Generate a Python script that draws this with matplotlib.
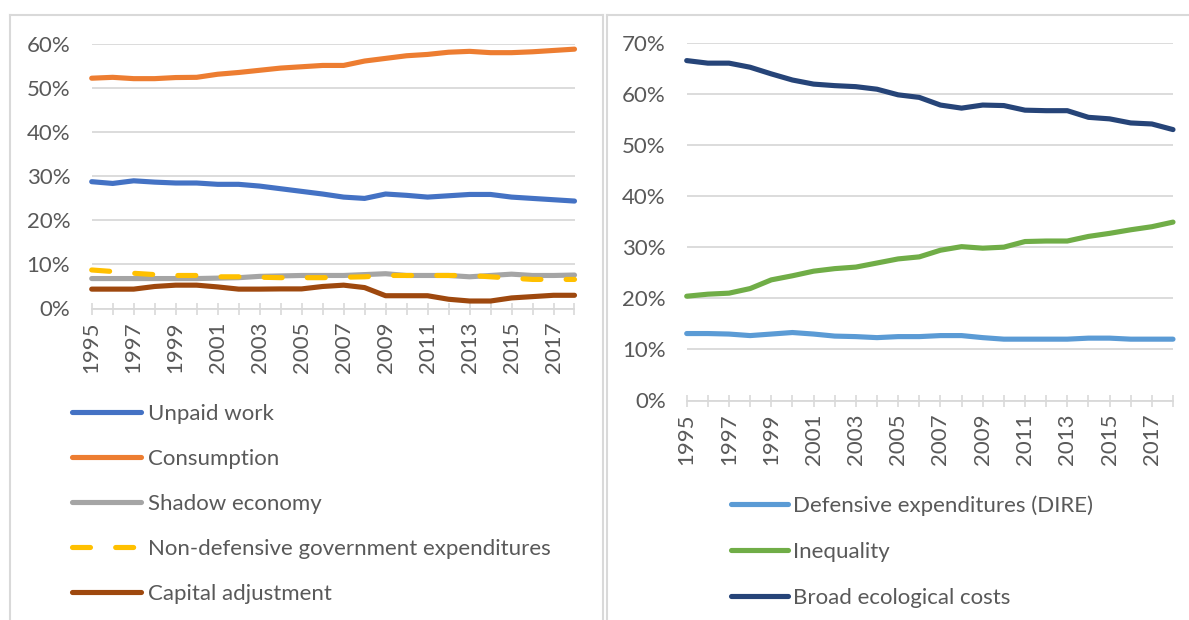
import matplotlib
matplotlib.use("Agg")
import matplotlib.pyplot as plt
from matplotlib.lines import Line2D
from matplotlib.ticker import FuncFormatter, FixedLocator

plt.rcParams['font.family'] = ['Lato', 'DejaVu Sans']

years = list(range(1995, 2019))

unpaid_work = [28.8, 28.4, 29.0, 28.7, 28.5, 28.5, 28.2, 28.2, 27.8, 27.2, 26.6, 26.0,
               25.3, 25.0, 26.0, 25.7, 25.3, 25.6, 25.9, 25.9, 25.3, 25.0, 24.7, 24.4]
consumption = [52.3, 52.5, 52.2, 52.2, 52.45, 52.5, 53.2, 53.6, 54.1, 54.6, 54.9, 55.2,
               55.2, 56.2, 56.8, 57.4, 57.7, 58.2, 58.4, 58.1, 58.1, 58.3, 58.6, 58.9]
shadow_economy = [6.8, 6.8, 6.8, 6.8, 6.8, 6.8, 6.9, 7.0, 7.3, 7.4, 7.5, 7.5,
                  7.5, 7.7, 7.9, 7.5, 7.5, 7.5, 7.2, 7.5, 7.8, 7.5, 7.5, 7.6]
non_defensive_gov = [8.75, 8.4, 8.0, 7.7, 7.5, 7.5, 7.2, 7.2, 7.1, 7.0, 7.0, 7.0,
                     7.1, 7.2, 7.5, 7.5, 7.5, 7.5, 7.5, 7.2, 6.9, 6.6, 6.6, 6.6]
capital_adjustment = [4.4, 4.4, 4.4, 5.0, 5.3, 5.3, 4.9, 4.4, 4.4, 4.45, 4.45, 5.0,
                      5.3, 4.75, 2.9, 2.9, 2.9, 2.1, 1.7, 1.7, 2.4, 2.7, 3.0, 3.0]

defensive_exp = [13.1, 13.1, 13.0, 12.7, 13.0, 13.3, 13.0, 12.6, 12.5, 12.3, 12.5, 12.5,
                 12.7, 12.7, 12.3, 12.0, 12.0, 12.0, 12.0, 12.2, 12.2, 12.0, 12.0, 12.0]
inequality = [20.4, 20.8, 21.0, 21.9, 23.6, 24.4, 25.3, 25.8, 26.1, 26.9, 27.7, 28.1,
              29.4, 30.1, 29.8, 30.0, 31.1, 31.2, 31.2, 32.1, 32.7, 33.4, 34.0, 34.9]
broad_ecological = [66.5, 66.0, 66.0, 65.2, 63.9, 62.7, 61.9, 61.6, 61.4, 60.9, 59.8, 59.3,
                    57.8, 57.2, 57.8, 57.7, 56.8, 56.7, 56.7, 55.4, 55.1, 54.3, 54.1, 53.0]

left_labels = ["Unpaid work", "Consumption", "Shadow economy",
               "Non-defensive government expenditures", "Capital adjustment"]
right_labels = ["Defensive expenditures (DIRE)", "Inequality", "Broad ecological costs"]

left_colors = ["#4472C4", "#ED7D31", "#A5A5A5", "#FFC000", "#9E480E"]
right_colors = ["#5B9BD5", "#70AD47", "#264478"]

W, H = 1189, 620
fig = plt.figure(figsize=(W / 100, H / 100), dpi=100)

def rect(x0, y0, x1, y1):
    return [x0 / W, 1 - y1 / H, (x1 - x0) / W, (y1 - y0) / H]

GRID = "#D9D9D9"
TXT = "#595959"
FS = 16
LW = 3.7

def style_axes(ax, ymax, ystep, ypad):
    ax.set_xlim(1995, 2018)
    ax.set_ylim(0, ymax)
    ax.set_yticks([v for v in range(0, ymax + 1, ystep)])
    ax.yaxis.set_major_formatter(FuncFormatter(lambda v, p: f"{int(round(v))}%"))
    ax.grid(axis='y', color=GRID, linewidth=1.3)
    ax.set_axisbelow(True)
    for s in ['top', 'right', 'left']:
        ax.spines[s].set_visible(False)
    ax.spines['bottom'].set_color(GRID)
    ax.spines['bottom'].set_linewidth(1.3)
    ax.spines['bottom'].set_zorder(1)
    ax.xaxis.set_major_locator(FixedLocator(years))
    ax.set_xticklabels([str(y) if y % 2 == 1 else "" for y in years],
                       rotation=90, fontsize=FS, color=TXT)
    ax.tick_params(axis='x', direction='inout', length=9, width=1.2, color=GRID, pad=5)
    ax.tick_params(axis='y', length=0, pad=ypad, labelsize=FS, labelcolor=TXT)

# Left chart
axL = fig.add_axes(rect(91.7, 44.3, 574.5, 308.5))
left_series = [unpaid_work, consumption, shadow_economy, non_defensive_gov, capital_adjustment]
handlesL = []
for vals, col, lab in zip(left_series, left_colors, left_labels):
    if lab.startswith("Non-defensive"):
        ln, = axL.plot(years, vals, color=col, linewidth=LW, linestyle=(0, (3.5, 4.9)),
                       dash_capstyle='round', solid_capstyle='round', label=lab, clip_on=False)
    else:
        ln, = axL.plot(years, vals, color=col, linewidth=LW, solid_capstyle='round',
                       label=lab, clip_on=False)
    handlesL.append(ln)
style_axes(axL, 60, 10, 15.5)

# Right chart
axR = fig.add_axes(rect(686.7, 42.7, 1173, 400.5))
right_series = [defensive_exp, inequality, broad_ecological]
handlesR = []
for vals, col, lab in zip(right_series, right_colors, right_labels):
    ln, = axR.plot(years, vals, color=col, linewidth=LW, solid_capstyle='round',
                   label=lab, clip_on=False)
    handlesR.append(ln)
style_axes(axR, 70, 10, 15)

# Legends
fig.legend(handlesL, left_labels, loc='upper left', bbox_to_anchor=(72 / W, 1 - 403.5 / H),
           frameon=False, fontsize=FS, labelcolor=TXT, handlelength=3.1,
           handletextpad=0.3, labelspacing=1.13, borderpad=0, borderaxespad=0)
fig.legend(handlesR, right_labels, loc='upper left', bbox_to_anchor=(731 / W, 1 - 495.5 / H),
           frameon=False, fontsize=FS, labelcolor=TXT, handlelength=2.57,
           handletextpad=0.2, labelspacing=1.17, borderpad=0, borderaxespad=0)

# Panel borders
bc = "#D9D9D9"
def fline(xs, ys):
    fig.add_artist(Line2D([x / W for x in xs], [1 - y / H for y in ys],
                          color=bc, linewidth=1.5, transform=fig.transFigure))

fline([10, 10], [14.5, 620])
fline([10, 603], [14.5, 14.5])
fline([603, 603], [14.5, 620])
fline([606.5, 606.5], [14.5, 620])
fline([606.5, 1189], [14.5, 14.5])

fig.savefig("out.png", dpi=100, facecolor="white")
